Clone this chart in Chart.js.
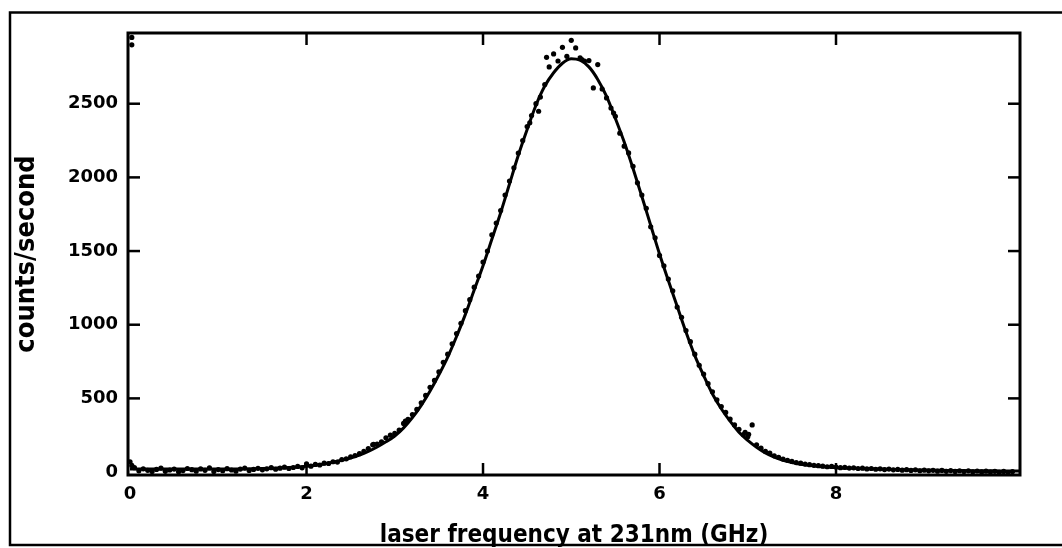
<!DOCTYPE html>
<html><head><meta charset="utf-8">
<script src="https://cdn.jsdelivr.net/npm/chart.js@4/dist/chart.umd.min.js"></script>
<style>html,body{margin:0;padding:0;background:#fff;overflow:hidden}canvas{display:block}</style>
</head><body>
<canvas id="c" width="1062" height="548"></canvas>
<script>
const xTickLabels = [0, 2, 4, 6, 8];
const yTickLabels = [0, 500, 1000, 1500, 2000, 2500];
const xTitle = 'laser frequency at 231nm (GHz)';
const yTitle = 'counts/second';

// measured points
const freq = [
 0,0.05,0.1,0.15,0.2,0.25,0.3,0.35,0.4,0.45,0.5,0.55,0.6,0.65,0.7,0.75,0.8,0.85,0.9,0.95,
 1,1.05,1.1,1.15,1.2,1.25,1.3,1.35,1.4,1.45,1.5,1.55,1.6,1.65,1.7,1.75,1.8,1.85,1.9,1.95,
 2,2.05,2.1,2.15,2.2,2.25,2.3,2.35,2.4,2.45,2.5,2.55,2.6,2.65,2.7,2.75,2.8,2.85,2.9,2.95,
 3,3.05,3.1,3.15,3.2,3.25,3.3,3.35,3.4,3.45,3.5,3.55,3.6,3.65,3.7,3.75,3.8,3.85,3.9,3.95,
 4,4.05,4.1,4.15,4.2,4.25,4.3,4.35,4.4,4.45,4.5,4.55,4.6,4.65,4.7,4.75,4.8,4.85,4.9,4.95,
 5,5.05,5.1,5.15,5.2,5.25,5.3,5.35,5.4,5.45,5.5,5.55,5.6,5.65,5.7,5.75,5.8,5.85,5.9,5.95,
 6,6.05,6.1,6.15,6.2,6.25,6.3,6.35,6.4,6.45,6.5,6.55,6.6,6.65,6.7,6.75,6.8,6.85,6.9,6.95,
 7,7.05,7.1,7.15,7.2,7.25,7.3,7.35,7.4,7.45,7.5,7.55,7.6,7.65,7.7,7.75,7.8,7.85,7.9,7.95,
 8,8.05,8.1,8.15,8.2,8.25,8.3,8.35,8.4,8.45,8.5,8.55,8.6,8.65,8.7,8.75,8.8,8.85,8.9,8.95,
 9,9.05,9.1,9.15,9.2,9.25,9.3,9.35,9.4,9.45,9.5,9.55,9.6,9.65,9.7,9.75,9.8,9.85,9.9,9.95,
 10,
 0.02,0.02,0.02,4.72,4.63,4.53,5.12,5.48,6.97,7.01,2.76,3.12
];
const counts = [
 70,30,8,22,12,3,18,26,5,14,20,2,10,24,16,6,21,12,28,4,
 17,9,23,14,6,20,27,11,18,25,15,22,30,19,26,33,24,31,38,29,
 55,40,52,48,60,58,70,68,85,90,104,112,125,140,160,185,190,205,232,250,
 262,285,330,358,390,425,470,520,575,622,680,745,800,870,940,1010,1095,1170,1255,1330,
 1425,1500,1610,1690,1775,1880,1975,2065,2165,2250,2345,2420,2500,2545,2630,2750,2838,2790,2883,2822,
 2930,2879,2811,2790,2793,2607,2766,2600,2539,2471,2415,2300,2212,2166,2075,1963,1880,1790,1665,1590,
 1470,1400,1310,1230,1120,1050,960,885,800,725,665,600,545,490,445,405,360,320,290,255,
 240,320,185,162,140,128,110,100,88,80,72,64,60,54,50,46,43,40,36,38,
 34,30,32,27,29,24,26,21,24,19,22,17,20,15,18,13,16,11,15,9,
 13,8,12,6,11,5,10,4,9,3,8,2,7,1,6,0,5,-2,4,-3,
 3,
 2950,2900,45,2815,2449,2370,2800,2437,270,256,188,345
];

// fitted curve
const fitFreq = [
 0,0.2,0.4,0.6,0.8,1,1.2,1.4,1.6,1.8,2,2.2,
 2.4,2.5,2.6,2.7,2.8,2.9,3,3.1,3.2,3.3,3.4,3.5,3.6,3.7,3.8,3.9,4,4.1,4.2,4.3,
 4.4,4.5,4.6,4.7,4.8,4.9,5,5.1,5.2,5.3,5.4,5.5,5.6,5.7,5.8,5.9,6,6.1,6.2,6.3,
 6.4,6.5,6.6,6.7,6.8,6.9,7,7.1,7.2,7.3,7.4,7.5,7.6,
 7.8,8,8.2,8.4,8.6,8.8,9,9.2,9.4,9.6,9.8,10,10.1
];
const fitCounts = [
 20,20,20,20,20,20,21,23,26,31,40,55,
 80,95,115,140,170,205,245,300,370,453,550,660,780,920,1070,1235,1400,1580,1760,1955,
 2150,2325,2490,2620,2710,2775,2805,2795,2750,2665,2550,2400,2240,2060,1870,1675,1480,1300,1125,950,
 790,655,530,430,345,270,215,168,130,102,80,65,52,
 38,30,25,22,19,16,14,12,10,9,8,7,7
];

const FONT = "'DejaVu Sans', 'Liberation Sans', sans-serif";
const TITLE_FONT = "'Liberation Sans Narrow', 'DejaVu Sans Condensed', 'DejaVu Sans', sans-serif";

const framePlugin = {
  id: 'frame',
  beforeDraw(chart) {
    const ctx = chart.ctx;
    ctx.save();
    ctx.fillStyle = '#fff';
    ctx.fillRect(0, 0, chart.width, chart.height);
    ctx.restore();
  },
  afterDraw(chart) {
    const {ctx, chartArea: a, scales: {x, y}} = chart;
    ctx.save();
    ctx.strokeStyle = '#000';
    ctx.lineWidth = 2.5;
    ctx.strokeRect(10, 12.5, 1100, 532.5);
    ctx.lineWidth = 3;
    ctx.strokeRect(a.left, a.top, a.right - a.left, a.bottom - a.top);
    ctx.lineWidth = 2.5;
    const L = 12;
    const line = (x1, y1, x2, y2) => { ctx.beginPath(); ctx.moveTo(x1, y1); ctx.lineTo(x2, y2); ctx.stroke(); };
    x.ticks.forEach(t => {
      const p = x.getPixelForValue(t.value);
      if (p - a.left < 4) return;
      line(p, a.bottom, p, a.bottom - L);
      line(p, a.top, p, a.top + L);
    });
    y.ticks.forEach(t => {
      const p = y.getPixelForValue(t.value);
      if (a.bottom - p < 4) return;
      line(a.left, p, a.left + L, p);
      line(a.right, p, a.right - L, p);
    });
    ctx.restore();
  }
};

new Chart(document.getElementById('c'), {
  type: 'scatter',
  data: {
    datasets: [
      {
        data: fitFreq.map((v, i) => ({x: v, y: fitCounts[i]})),
        showLine: true,
        pointRadius: 0,
        borderColor: '#000',
        borderWidth: 3,
        cubicInterpolationMode: 'monotone'
      },
      {
        data: freq.map((v, i) => ({x: v, y: counts[i]})),
        pointRadius: 2.6,
        pointStyle: 'circle',
        backgroundColor: '#000',
        borderWidth: 0
      }
    ]
  },
  options: {
    responsive: false,
    animation: false,
    devicePixelRatio: 1,
    layout: {padding: {left: 0, top: 33, right: 42, bottom: 0}},
    plugins: {legend: {display: false}, tooltip: {enabled: false}},
    scales: {
      x: {
        type: 'linear',
        min: -0.023,
        max: 10.085,
        grid: {display: false, drawTicks: false},
        border: {display: false},
        afterBuildTicks: s => { s.ticks = xTickLabels.map(v => ({value: v})); },
        afterFit: s => { s.height = 73; },
        ticks: {color: '#000', padding: 9, maxRotation: 0, callback: v => String(v),
                font: {family: FONT, size: 18, weight: 'bold'}},
        title: {display: true, text: xTitle, color: '#000', padding: {top: 0, bottom: 0},
                font: {family: TITLE_FONT, size: 24, weight: 'bold', lineHeight: 1}}
      },
      y: {
        type: 'linear',
        min: -20,
        max: 2980,
        grid: {display: false, drawTicks: false},
        border: {display: false},
        afterBuildTicks: s => { s.ticks = yTickLabels.map(v => ({value: v})); },
        afterFit: s => { s.width = 128; },
        ticks: {color: '#000', padding: 10, callback: v => String(v),
                font: {family: FONT, size: 18, weight: 'bold'}},
        title: {display: true, text: yTitle, color: '#000', padding: {top: 13, bottom: 0},
                font: {family: TITLE_FONT, size: 27, weight: 'bold', lineHeight: 1}}
      }
    }
  },
  plugins: [framePlugin]
});
</script>
</body></html>
